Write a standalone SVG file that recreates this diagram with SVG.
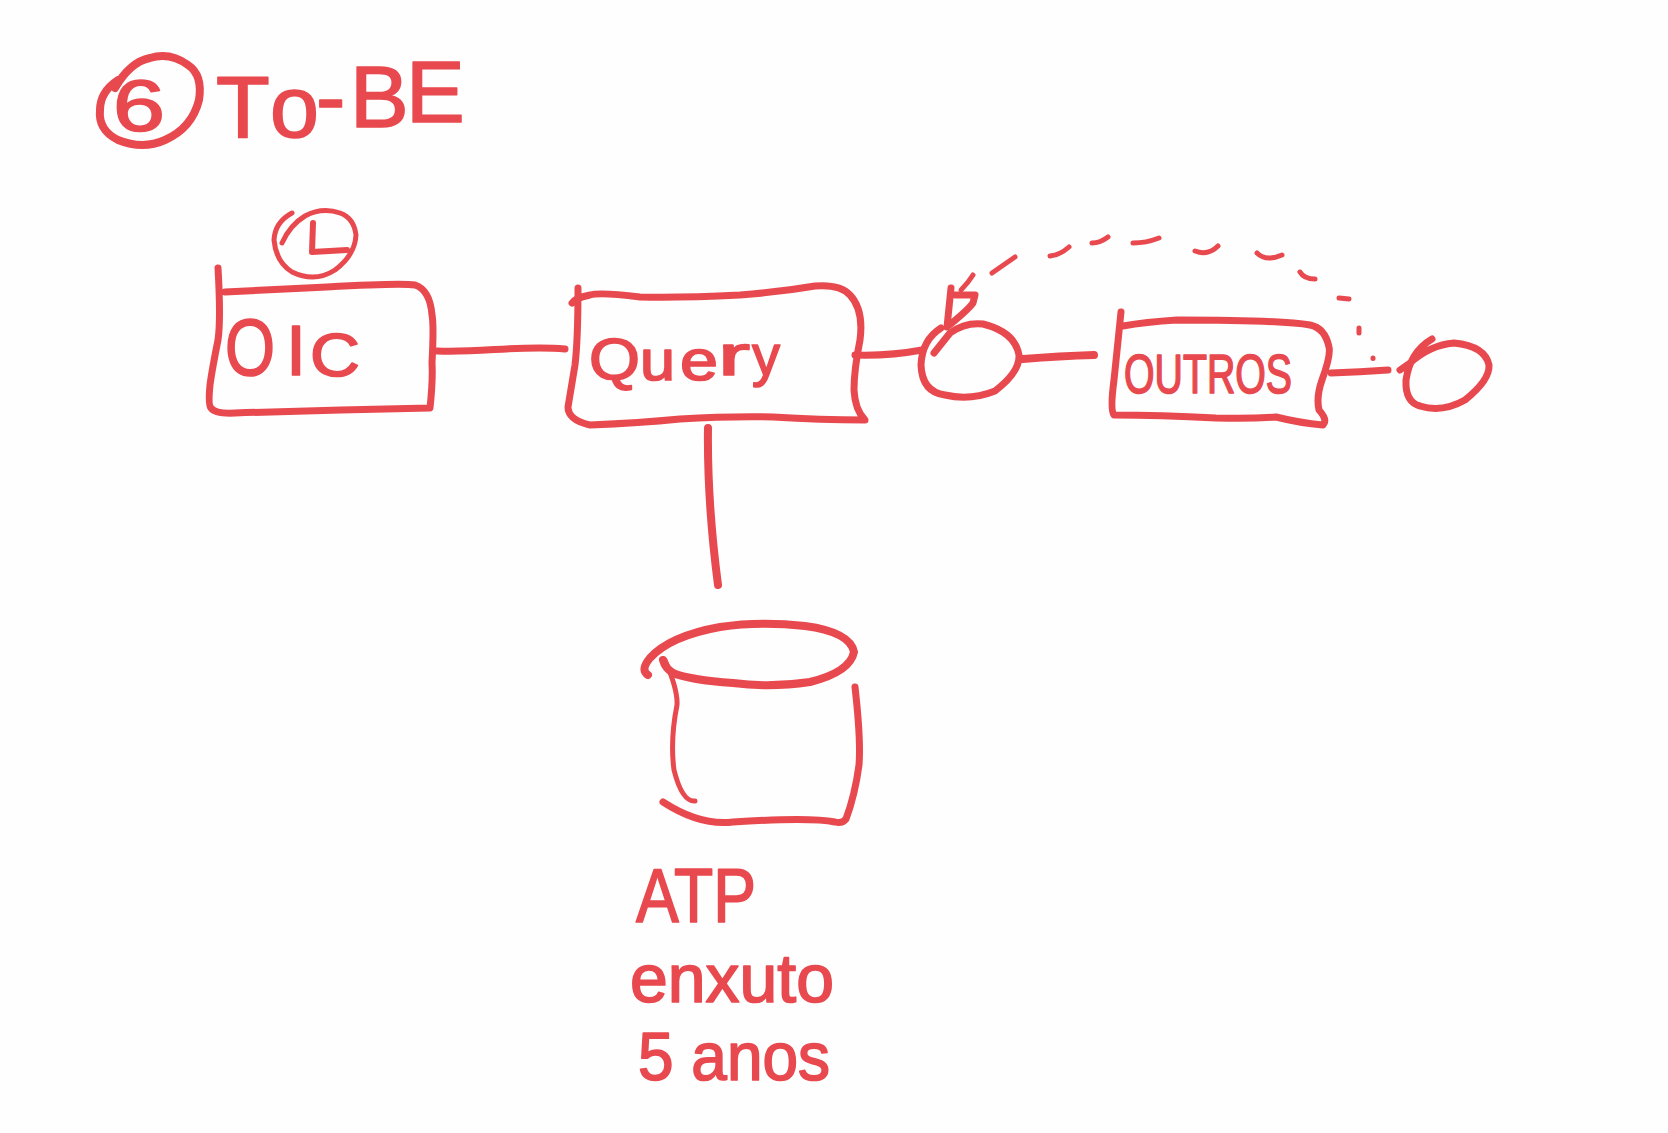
<svg xmlns="http://www.w3.org/2000/svg" width="1668" height="1133" viewBox="0 0 1668 1133">
<style>
.s{fill:none;stroke:#E8494F;stroke-linecap:round;stroke-linejoin:round;stroke-width:7}
.t{stroke-width:5}
.m{stroke-width:6}
.b{stroke-width:8}
.d{stroke-width:5}
text{font-family:"Liberation Sans",Arial,sans-serif;fill:#E8494F;stroke:#E8494F;stroke-linejoin:round;stroke-width:1.7}
</style>
<rect width="1668" height="1133" fill="#FEFEFE"/>
<g id="title">
<path class="s b" d="M118 80 Q100 92 100 110 Q98 130 118 140 Q143 150 165 140 Q192 128 199 100 Q203 75 188 65 Q170 52 150 58 Q130 62 115 88"/>
<text x="113" y="131" font-size="72" textLength="52" lengthAdjust="spacingAndGlyphs">6</text>
<text x="216 270 316 350 406" y="137 137 127 127 122" font-size="88">To-BE</text>
</g>
<g id="clock">
<path class="s t" d="M292 213 Q275 222 274 240 Q276 262 292 272 Q315 283 335 270 Q355 255 356 235 Q354 218 340 213 Q322 207 305 216 Q290 225 282 243"/>
<path class="s m" d="M313 223 L312 252 L347 250"/>
</g>
<g id="oic">
<path class="s" d="M218 268 Q221 320 218 340 Q212 370 210 385 Q208 405 211 408 Q215 414 235 413 Q330 410 430 408 Q433 380 432 363 Q434 325 432 315 Q430 290 415 285 Q400 283 327 287 Q270 290 225 292"/>
<text><tspan x="225" y="375" font-size="80" textLength="50" lengthAdjust="spacingAndGlyphs">O</tspan><tspan x="286" y="375" font-size="70" textLength="20" lengthAdjust="spacingAndGlyphs">I</tspan><tspan x="310" y="376" font-size="62" textLength="50" lengthAdjust="spacingAndGlyphs">C</tspan></text>
</g>
<g id="query">
<path class="s" d="M578 288 Q578 340 575 365 Q570 395 568 407 Q568 420 590 425 Q640 423 680 419 Q730 416 773 417 Q820 420 865 420 Q855 410 854 390 Q854 370 860 340 Q864 310 850 295 Q840 284 815 286 Q780 292 740 295 Q680 298 640 297 Q600 292 590 295 Q575 298 572 303"/>
<text><tspan x="589" y="379" font-size="58" textLength="51" lengthAdjust="spacingAndGlyphs">Q</tspan><tspan x="640" y="380" font-size="58" textLength="35" lengthAdjust="spacingAndGlyphs">u</tspan><tspan x="680" y="380" font-size="58" textLength="38" lengthAdjust="spacingAndGlyphs">e</tspan><tspan x="718" y="375" font-size="58" textLength="32" lengthAdjust="spacingAndGlyphs">r</tspan><tspan x="752" y="375" font-size="58" textLength="28" lengthAdjust="spacingAndGlyphs">y</tspan></text>
</g>
<g id="node-circle-a">
<path class="s" d="M941 328 Q922 340 921 365 Q922 392 945 395 Q970 401 995 391 Q1020 372 1019 355 Q1015 332 983 324 Q965 322 950 333 L934 353"/>
</g>
<g id="outros">
<path class="s" d="M1121 312 Q1117 350 1114 380 Q1110 410 1114 415 Q1160 415 1216 418 Q1250 419 1276 417 Q1300 423 1323 425 Q1328 420 1319 410 Q1316 397 1322 380 Q1331 355 1329 347 Q1325 328 1310 325 Q1280 320 1177 320 Q1145 322 1123 326"/>
<text x="1124" y="393" font-size="56" textLength="168" lengthAdjust="spacingAndGlyphs">OUTROS</text>
</g>
<g id="node-circle-b">
<path class="s" d="M1432 339 Q1410 352 1406 380 Q1405 402 1420 406 Q1442 413 1465 400 Q1490 380 1489 365 Q1485 346 1454 343 Q1430 345 1410 363 L1400 370"/>
</g>
<g id="database">
<path class="s b" d="M648 675 Q640 670 650 658 Q670 636 720 627 Q760 621 805 626 Q850 632 854 652 Q850 672 810 682 Q770 688 733 683 Q690 680 673 673 Q665 668 663 660"/>
<path class="s t" d="M665 660 Q678 690 677 705 Q670 740 674 770 Q682 802 695 801"/>
<path class="s" d="M855 687 Q861 740 859 765 Q855 795 846 819 Q842 824 835 822 Q810 817 733 822 Q700 826 663 802"/>
</g>
<g id="database-label">
<text x="636" y="922" font-size="76" textLength="120" lengthAdjust="spacingAndGlyphs">ATP</text>
<text x="630" y="1002" font-size="68" textLength="204" lengthAdjust="spacingAndGlyphs">enxuto</text>
<text x="638" y="1080" font-size="68" textLength="192" lengthAdjust="spacingAndGlyphs">5 anos</text>
</g>
<g id="connectors">
<path class="s" d="M437 351 C480 353 520 345 565 349"/>
<path class="s" d="M855 355 Q890 356 922 350"/>
<path class="s b" d="M708 428 Q707 500 718 585"/>
<path class="s b" d="M1023 359 Q1060 356 1094 355"/>
<path class="s" d="M1331 373 Q1360 372 1388 370"/>
<path class="s" d="M951 288 L947 327 Q968 310 973 303 L975 295 L955 295"/>
<path class="s d" d="M973 275 Q968 283 961 290"/>
<path class="s d" d="M1015 257 L992 273"/>
<path class="s d" d="M1069 247 Q1060 255 1050 256"/>
<path class="s d" d="M1108 237 Q1100 243 1092 243"/>
<path class="s d" d="M1159 238 Q1146 243 1133 243"/>
<path class="s d" d="M1195 251 Q1208 256 1218 246"/>
<path class="s d" d="M1257 253 Q1266 262 1282 255"/>
<path class="s d" d="M1300 272 Q1304 279 1315 279"/>
<path class="s d" d="M1339 298 L1349 299"/>
<path class="s d" d="M1359 328 L1359 333"/>
<path class="s d" d="M1373 358 L1373 358.500"/>
</g>
</svg>
